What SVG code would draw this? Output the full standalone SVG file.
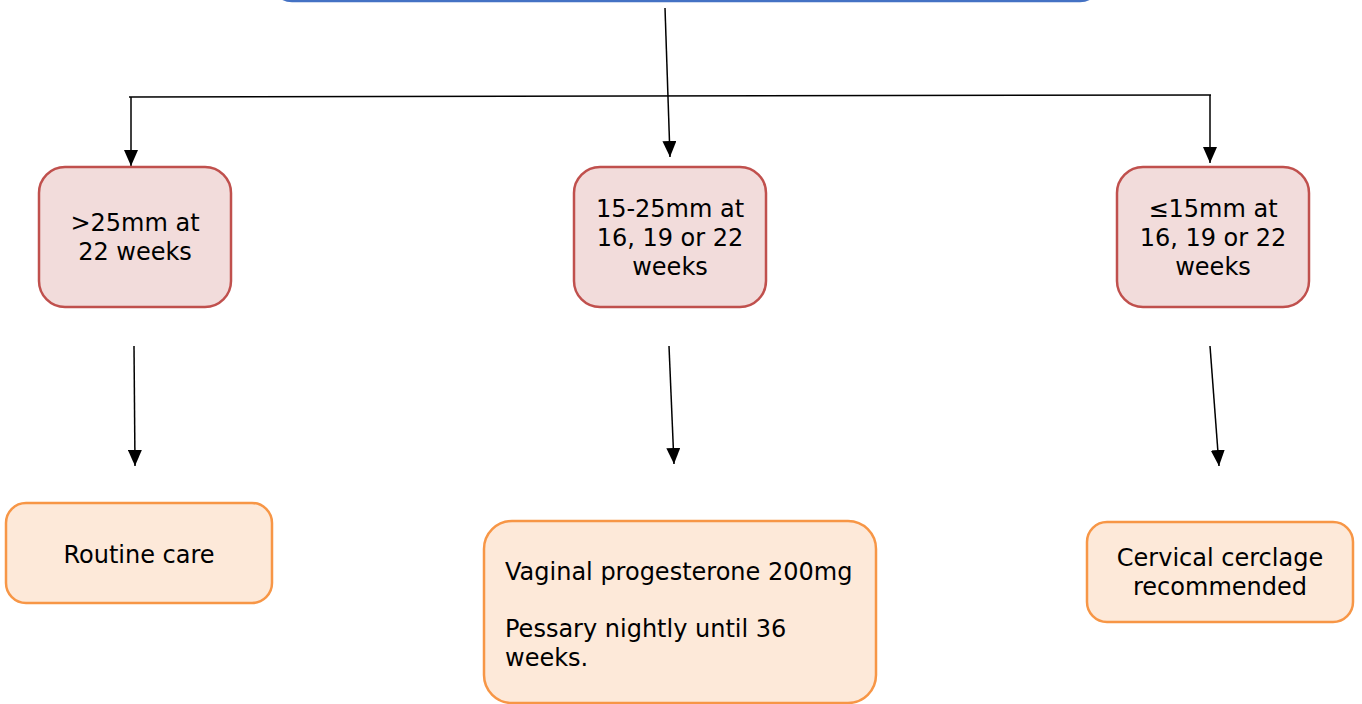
<svg xmlns="http://www.w3.org/2000/svg" width="1362" height="704" viewBox="0 0 1362 704">
  <style>
    .lbl { font-family: "DejaVu Sans", Verdana, sans-serif; font-size: 24px; fill: #000; }
    .mid { text-anchor: middle; }
    .cond { fill: #F2DCDB; stroke: #C0504D; stroke-width: 2.5; }
    .act { fill: #FDE9D9; stroke: #F79646; stroke-width: 2.5; }
    .wire { stroke: #000; stroke-width: 1.5; fill: none; }
  </style>
  <defs>
    <marker id="arrow" viewBox="0 0 16 14" refX="16" refY="7" markerWidth="16" markerHeight="14" markerUnits="userSpaceOnUse" orient="auto">
      <path d="M0,0 L16,7 L0,14 z" fill="#000"/>
    </marker>
  </defs>

  <rect width="1362" height="704" fill="#fff"/>

  <!-- screening box (extends above the top edge) -->
  <g id="screening">
    <rect x="272" y="-60" width="828" height="61" rx="20" fill="#fff" stroke="#4472C4" stroke-width="2.5"/>
  </g>

  <!-- connectors -->
  <g id="connectors">
    <line class="wire" x1="665" y1="8" x2="670" y2="157" marker-end="url(#arrow)"/>
    <line class="wire" x1="129" y1="97" x2="1211" y2="95"/>
    <line class="wire" x1="131" y1="97" x2="131" y2="166" marker-end="url(#arrow)"/>
    <line class="wire" x1="1210" y1="95" x2="1210" y2="163" marker-end="url(#arrow)"/>
    <line class="wire" x1="134" y1="346" x2="135" y2="466" marker-end="url(#arrow)"/>
    <line class="wire" x1="669" y1="346" x2="674" y2="464" marker-end="url(#arrow)"/>
    <line class="wire" x1="1210" y1="346" x2="1219" y2="466" marker-end="url(#arrow)"/>
  </g>

  <!-- cervical length groups -->
  <g id="long-cervix">
    <rect class="cond" x="39" y="167" width="192" height="140" rx="26"/>
    <text class="lbl mid" x="135" y="231">&gt;25mm at</text>
    <text class="lbl mid" x="135" y="260">22 weeks</text>
  </g>
  <g id="mid-cervix">
    <rect class="cond" x="574" y="167" width="192" height="140" rx="26"/>
    <text class="lbl mid" x="670" y="217">15-25mm at</text>
    <text class="lbl mid" x="670" y="246">16, 19 or 22</text>
    <text class="lbl mid" x="670" y="275">weeks</text>
  </g>
  <g id="short-cervix">
    <rect class="cond" x="1117" y="167" width="192" height="140" rx="26"/>
    <text class="lbl mid" x="1213" y="217">≤15mm at</text>
    <text class="lbl mid" x="1213" y="246">16, 19 or 22</text>
    <text class="lbl mid" x="1213" y="275">weeks</text>
  </g>

  <!-- management -->
  <g id="routine-care">
    <rect class="act" x="6" y="503" width="266" height="100" rx="20"/>
    <text class="lbl mid" x="139" y="563">Routine care</text>
  </g>
  <g id="progesterone">
    <rect class="act" x="484" y="521" width="392" height="182" rx="28"/>
    <text class="lbl" x="505" y="580">Vaginal progesterone 200mg</text>
    <text class="lbl" x="505" y="637">Pessary nightly until 36</text>
    <text class="lbl" x="505" y="666">weeks.</text>
  </g>
  <g id="cerclage">
    <rect class="act" x="1087" y="522" width="266" height="100" rx="20"/>
    <text class="lbl mid" x="1220" y="566">Cervical cerclage</text>
    <text class="lbl mid" x="1220" y="595">recommended</text>
  </g>
</svg>
